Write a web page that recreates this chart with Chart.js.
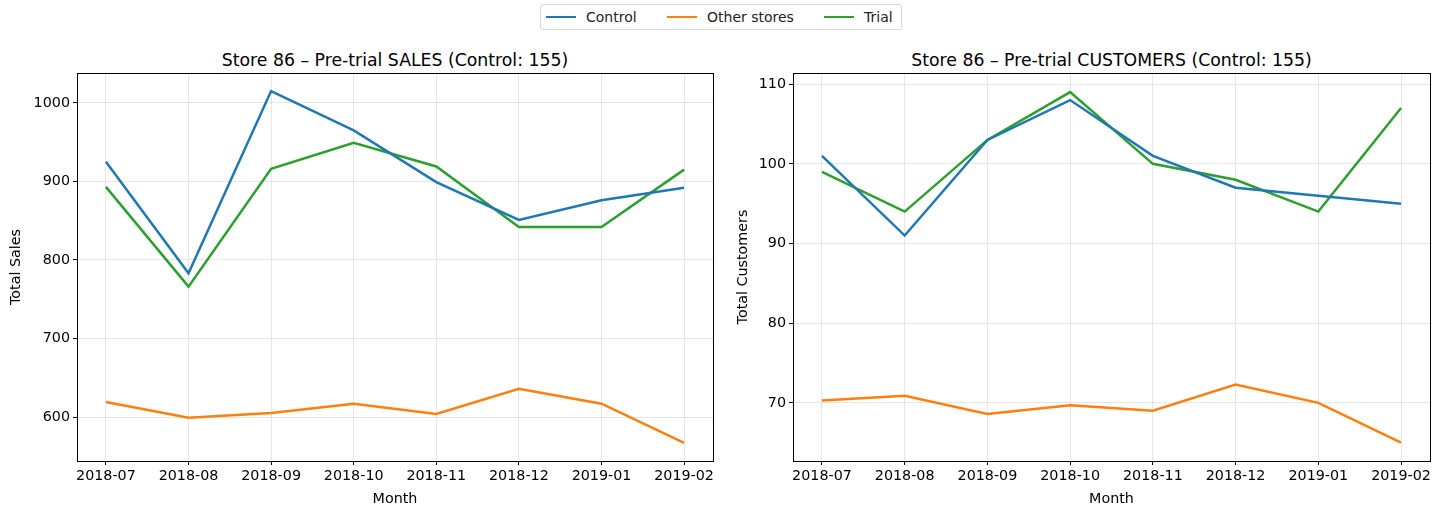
<!DOCTYPE html>
<html lang="en">
<head>
  <meta charset="UTF-8" />
  <title>Store 86 - Pre-trial</title>
  <script src="https://cdn.jsdelivr.net/npm/chart.js"></script>
  <style>
    body { margin: 0; background: #fff; font-family: "DejaVu Sans", sans-serif; }
    #fig { position: relative; width: 1439px; height: 511px; overflow: hidden; }
    .panel { position: absolute; top: 40px; height: 471px; }
    .ttl { position: absolute; top: 50px; font-size: 17.3px; color: #000; text-align: center; line-height: 20px; white-space: nowrap; }
    #legend { position: absolute; left: 540px; top: 4px; width: 362px; height: 26px;
      border: 1px solid #d8d8d8; border-radius: 3px; box-sizing: border-box; font-size: 14px; color: #222; }
    .item { position: absolute; top: 3px; line-height: 18px; }
    .sw { display: inline-block; width: 30px; height: 0; border-top: 2.5px solid; vertical-align: middle; margin-right: 10px; margin-top: -3px; }
  </style>
</head>
<body>
<div id="fig">
  <div id="legend">
    <span class="item" style="left:5px"><span class="sw" style="border-color:#1f77b4"></span>Control</span>
    <span class="item" style="left:126px"><span class="sw" style="border-color:#ff7f0e"></span>Other stores</span>
    <span class="item" style="left:283px"><span class="sw" style="border-color:#2ca02c"></span>Trial</span>
  </div>
  <div class="ttl" style="left:77px; width:636px;">Store 86 &ndash; Pre-trial SALES (Control: 155)</div>
  <div class="ttl" style="left:793px; width:637px;">Store 86 &ndash; Pre-trial CUSTOMERS (Control: 155)</div>
  <div class="panel" style="left:0; width:720px;"><canvas id="sales" width="720" height="471"></canvas></div>
  <div class="panel" style="left:720px; width:719px;"><canvas id="cust" width="719" height="471"></canvas></div>
</div>

<script>
  const months = ['2018-07', '2018-08', '2018-09', '2018-10', '2018-11', '2018-12', '2019-01', '2019-02'];

  const salesControl = [925, 783, 1015, 965, 899, 851, 876, 892];
  const salesOther   = [619, 599, 605, 617, 604, 636, 617, 567];
  const salesTrial   = [893, 766, 916, 949, 919, 842, 842, 915];
  const salesTicks   = [600, 700, 800, 900, 1000];

  const custControl = [101, 91, 103, 108, 101, 97, 96, 95];
  const custOther   = [70.3, 70.9, 68.6, 69.7, 69.0, 72.3, 70.0, 65.0];
  const custTrial   = [99, 94, 103, 109, 100, 98, 94, 107];
  const custTicks   = [70, 80, 90, 100, 110];

  const frameBox = {
    id: 'frameBox',
    afterDraw(chart) {
      const a = chart.chartArea, ctx = chart.ctx;
      ctx.save();
      ctx.strokeStyle = '#000';
      ctx.lineWidth = 1;
      ctx.strokeRect(Math.round(a.left) + 0.5, Math.round(a.top) + 0.5,
        Math.round(a.right - a.left), Math.round(a.bottom - a.top));
      ctx.restore();
    }
  };

  function pts(arr) { return arr.map((v, i) => ({ x: i, y: v })); }

  function makeChart(id, yTitle, series, yTicks, yMin, yMax, yWidth, rightPad, yTitlePad) {
    const grid = { color: 'rgba(176,176,176,0.3)', tickColor: '#000', tickLength: 4 };
    const font = { family: 'DejaVu Sans', size: 14.3 };
    new Chart(document.getElementById(id), {
      type: 'line',
      data: {
        datasets: [
          { label: 'Control', data: pts(series[0]), borderColor: '#1f77b4' },
          { label: 'Other stores', data: pts(series[1]), borderColor: '#ff7f0e' },
          { label: 'Trial', data: pts(series[2]), borderColor: '#2ca02c' }
        ].map(d => Object.assign(d, { borderWidth: 2.5, pointRadius: 0, tension: 0, fill: false }))
      },
      options: {
        responsive: false,
        animation: false,
        layout: { padding: { left: 0, right: rightPad, top: 33, bottom: 0 } },
        plugins: { legend: { display: false }, tooltip: { enabled: false } },
        scales: {
          x: {
            type: 'linear', min: -0.35, max: 7.35,
            grid: grid,
            border: { color: '#000' },
            afterBuildTicks: s => { s.ticks = months.map((m, i) => ({ value: i })); },
            ticks: {
              autoSkip: false, maxRotation: 0, color: '#000', font: font,
              callback: v => months[v]
            },
            title: { display: true, text: 'Month', color: '#000', font: font, padding: { top: 0, bottom: 3 } },
            afterFit: s => { s.height = 50; }
          },
          y: {
            min: yMin, max: yMax,
            grid: grid,
            border: { color: '#000' },
            afterBuildTicks: s => { s.ticks = yTicks.map(v => ({ value: v })); },
            ticks: { color: '#000', font: font, callback: v => String(v) },
            title: { display: true, text: yTitle, color: '#000', font: font, padding: { top: yTitlePad, bottom: 0 } },
            afterFit: s => { s.width = yWidth; }
          }
        }
      },
      plugins: [frameBox]
    });
  }

  makeChart('sales', 'Total Sales', [salesControl, salesOther, salesTrial], salesTicks, 544, 1038, 77, 7, 8);
  makeChart('cust', 'Total Customers', [custControl, custOther, custTrial], custTicks, 62.7, 111.4, 73, 9, 15);
</script>
</body>
</html>
